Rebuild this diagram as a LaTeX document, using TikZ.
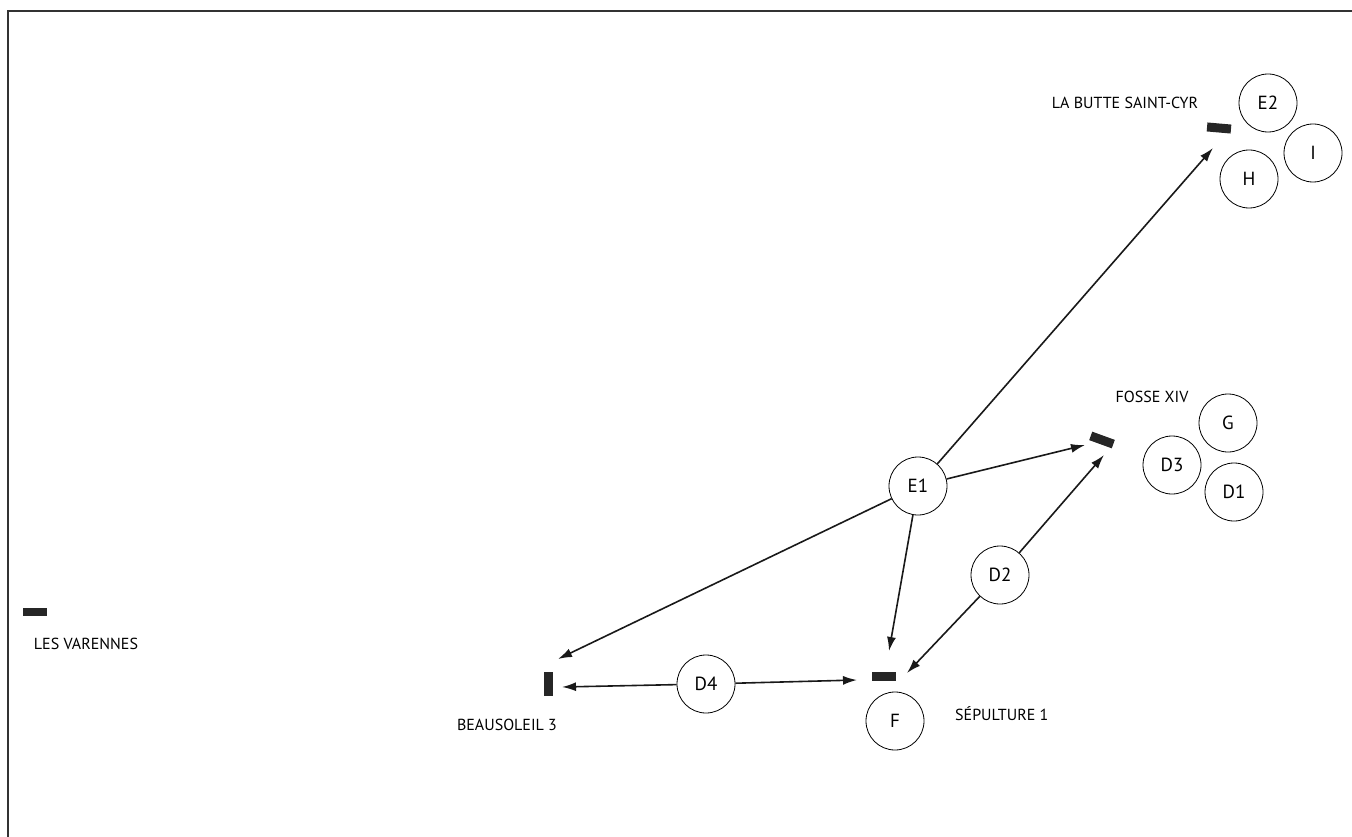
\documentclass[tikz,border=0pt]{standalone}
\usepackage{fontspec}
\setmainfont{PT Sans}
\usetikzlibrary{arrows.meta}
\begin{document}
\begin{tikzpicture}[x=1pt,y=-1pt,
  site/.style={circle,draw,line width=0.8pt,minimum size=58pt,inner sep=0pt,font=\fontsize{19}{19}\selectfont},
  bar/.style={fill=black!85,minimum width=24pt,minimum height=9pt,inner sep=0pt},
  lbl/.style={font=\fontsize{16}{16}\selectfont,inner sep=0pt},
  link/.style={line width=1.6pt,black!90,-{Latex[length=14pt,width=9pt]}}]
\useasboundingbox (0,0) rectangle (1352,837);
\draw[line width=1.8pt,black!80] (1352,11) -- (8,11) -- (8,837);
% bars
\node[bar,rotate=-5] (bButte) at (1219,128) {};
\node[bar,rotate=-20] (bFosse) at (1102,440) {};
\node[bar] (bSep) at (884,676) {};
\node[bar,rotate=90] (bBeau) at (548,684) {};
\node[bar,minimum height=8pt] (bVar) at (35,612) {};
% labels
\node[lbl] (lButte) at (1125,103) {LA BUTTE SAINT-CYR};
\node[lbl] (lFosse) at (1152,397) {FOSSE XIV};
\node[lbl] (lVar) at (86,644) {LES VARENNES};
\node[lbl] (lBeau) at (507,725) {BEAUSOLEIL 3};
\node[lbl,anchor=west] (lSep) at (955,714) {SÉPULTURE 1};
% circles
\node[site] (E2) at (1268,103) {E2};
\node[site] (I) at (1313,153) {I};
\node[site] (H) at (1249,179) {H};
\node[site] (G) at (1228,423) {G};
\node[site] (D3) at (1172,465) {D3};
\node[site] (D1) at (1234,492) {D1};
\node[site] (E1) at (918,486) {E1};
\node[site] (D2) at (1000,575) {D2};
\node[site] (D4) at (706,684) {D4};
\node[site] (F) at (895,721) {F};
% arrow tips
\coordinate (tButte) at (1213,148);
\coordinate (tFosseA) at (1085,445);
\coordinate (tFosseB) at (1104,455);
\coordinate (tSepA) at (889,651);
\coordinate (tSepB) at (907,673);
\coordinate (tSepC) at (857,680);
\coordinate (tBeauA) at (558,659);
\coordinate (tBeauB) at (562,687);
% connectors
\draw[link] (E1) -- (tButte);
\draw[link] (E1) -- (tFosseA);
\draw[link] (E1) -- (tSepA);
\draw[link] (E1) -- (tBeauA);
\draw[link] (D2) -- (tFosseB);
\draw[link] (D2) -- (tSepB);
\draw[link] (D4) -- (tBeauB);
\draw[link] (D4) -- (tSepC);
\end{tikzpicture}
\end{document}
